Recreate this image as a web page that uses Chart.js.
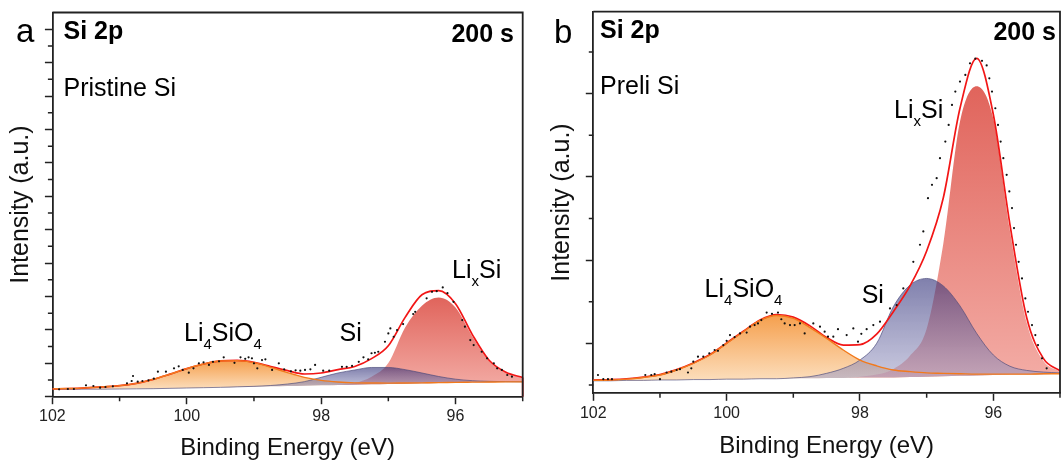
<!DOCTYPE html>
<html>
<head>
<meta charset="utf-8">
<script src="https://cdn.jsdelivr.net/npm/chart.js@4.4.1/dist/chart.umd.min.js"></script>
<style>
html, body { margin: 0; padding: 0; background: #fff; }
#wrap { position: relative; width: 1064px; height: 466px; }
.panel { position: absolute; top: 0; width: 532px; height: 466px; }
</style>
</head>
<body>
<div id="wrap">
  <div class="panel" style="left:0"><canvas id="chartA" width="532" height="466"></canvas></div>
  <div class="panel" style="left:532px"><canvas id="chartB" width="532" height="466"></canvas></div>
</div>
<script>
// binding energy grid (eV) used by the fitted curves of both panels
var energy = [102, 101.75, 101.5, 101.25, 101, 100.75, 100.5, 100.25, 100, 99.75, 99.5, 99.25, 99, 98.75,
  98.5, 98.25, 98, 97.75, 97.5, 97.25, 97, 96.75, 96.5, 96.25, 96, 95.75, 95.5, 95.25, 95];

var xMajor = [102, 100, 98, 96];
var xMinor = [101, 99, 97, 95];

// ---- panel a : Pristine Si ----
var baselineA = [0.44, 0.44, 0.45, 0.45, 0.46, 0.47, 0.48, 0.50, 0.52, 0.54, 0.56, 0.58, 0.60, 0.62, 0.64,
  0.66, 0.68, 0.70, 0.72, 0.74, 0.76, 0.78, 0.80, 0.82, 0.84, 0.86, 0.87, 0.88, 0.88];
var li4sio4A = [0.47, 0.49, 0.53, 0.59, 0.66, 0.80, 1.04, 1.35, 1.68, 1.96, 2.14, 2.16, 2.04, 1.76, 1.44,
  1.16, 0.98, 0.88, 0.83, 0.82, 0.81, 0.82, 0.83, 0.84, 0.86, 0.87, 0.88, 0.89, 0.89];
var siA = [0.44, 0.44, 0.45, 0.45, 0.46, 0.47, 0.48, 0.50, 0.52, 0.54, 0.56, 0.59, 0.62, 0.67, 0.76,
  0.90, 1.16, 1.42, 1.60, 1.75, 1.75, 1.62, 1.42, 1.21, 1.05, 0.96, 0.92, 0.90, 0.89];
var lixsiA = [0.44, 0.44, 0.45, 0.45, 0.46, 0.47, 0.48, 0.50, 0.52, 0.54, 0.56, 0.58, 0.60, 0.62, 0.64,
  0.66, 0.68, 0.72, 0.82, 1.19, 2.01, 4.15, 5.45, 5.94, 5.34, 3.61, 2.12, 1.43, 1.13];
var envelopeA = [0.47, 0.49, 0.53, 0.59, 0.66, 0.80, 1.04, 1.35, 1.68, 1.96, 2.14, 2.17, 2.06, 1.81, 1.56,
  1.36, 1.42, 1.62, 1.81, 2.28, 3.05, 4.75, 6.10, 6.35, 5.57, 3.72, 2.18, 1.46, 1.15];
var envelopeEndA = [[95, 1.15], [95, 0]];
var rawA = [[101.9, 0.44], [101.77, 0.46], [101.68, 0.46], [101.5, 0.68], [101.39, 0.64], [101.29, 0.54],
  [101.21, 0.58], [101.1, 0.62], [100.89, 0.8], [100.82, 0.94], [100.8, 1.24], [100.73, 0.9], [100.66, 0.94],
  [100.57, 0.98], [100.49, 1.08], [100.43, 1.5], [100.31, 1.5], [100.19, 1.7], [100.12, 1.82], [100.06, 1.6],
  [99.97, 1.44], [99.9, 1.7], [99.82, 2.0], [99.75, 2.06], [99.67, 1.9], [99.61, 2.09], [99.52, 2.12],
  [99.45, 2.36], [99.29, 2.03], [99.2, 2.36], [99.13, 2.27], [99.08, 2.36], [99.03, 2.3], [99.0, 2.0],
  [98.95, 1.7], [98.88, 2.19], [98.83, 2.24], [98.73, 1.6], [98.63, 2.0], [98.55, 1.64], [98.45, 1.52],
  [98.38, 1.58], [98.31, 1.56], [98.24, 1.6], [98.16, 1.64], [98.09, 1.9], [97.97, 1.56], [97.88, 1.56],
  [97.69, 1.79], [97.62, 1.79], [97.54, 1.84], [97.44, 2.09], [97.37, 2.36], [97.3, 2.24], [97.25, 2.6],
  [97.2, 2.63], [97.15, 2.69], [97.05, 3.29], [97.0, 3.79], [96.97, 4.09], [96.92, 3.59], [96.87, 3.99],
  [96.78, 4.35], [96.63, 4.95], [96.6, 5.08], [96.43, 5.89], [96.35, 6.28], [96.28, 6.32], [96.19, 6.54],
  [96.12, 6.2], [96.03, 5.68], [95.9, 4.59], [95.86, 4.19], [95.78, 3.39], [95.73, 3.09], [95.61, 2.69],
  [95.53, 2.3], [95.43, 2.0], [95.38, 1.7], [95.31, 1.6], [95.23, 1.3], [95.16, 1.2]];
var yMajorA = [0, 2, 4, 6, 8, 10, 12, 14, 16, 18, 20, 22];
var yMinorA = [1, 3, 5, 7, 9, 11, 13, 15, 17, 19, 21];

// ---- panel b : Preli Si ----
var baselineB = [0.10, 0.10, 0.11, 0.11, 0.12, 0.12, 0.13, 0.13, 0.14, 0.14, 0.15, 0.15, 0.16, 0.16, 0.17,
  0.17, 0.18, 0.18, 0.18, 0.19, 0.20, 0.21, 0.22, 0.23, 0.24, 0.25, 0.25, 0.26, 0.27];
var li4sio4B = [0.11, 0.12, 0.14, 0.18, 0.24, 0.36, 0.52, 0.72, 1.00, 1.28, 1.55, 1.67, 1.60, 1.38, 1.12,
  0.84, 0.60, 0.46, 0.36, 0.32, 0.29, 0.28, 0.27, 0.26, 0.26, 0.26, 0.26, 0.27, 0.27];
var siB = [0.10, 0.10, 0.11, 0.11, 0.12, 0.12, 0.13, 0.13, 0.14, 0.14, 0.15, 0.15, 0.17, 0.20, 0.28,
  0.40, 0.60, 1.00, 1.88, 2.40, 2.56, 2.38, 1.90, 1.24, 0.72, 0.45, 0.35, 0.31, 0.29];
var lixsiB = [0.10, 0.10, 0.11, 0.11, 0.12, 0.12, 0.13, 0.13, 0.14, 0.14, 0.15, 0.15, 0.16, 0.16, 0.17,
  0.17, 0.20, 0.25, 0.38, 0.70, 1.35, 3.40, 6.33, 7.18, 6.40, 3.70, 1.50, 0.58, 0.32];
var envelopeB = [0.12, 0.13, 0.15, 0.19, 0.25, 0.37, 0.53, 0.73, 1.01, 1.29, 1.56, 1.69, 1.63, 1.42, 1.14,
  0.96, 0.97, 1.22, 1.76, 2.38, 3.22, 4.50, 6.65, 7.85, 6.50, 3.85, 1.62, 0.64, 0.34];
var rawB = [[101.93, 0.24], [101.85, 0.14], [101.78, 0.14], [101.72, 0.14], [101.22, 0.24], [101.13, 0.24],
  [101.08, 0.26], [101.0, 0.14], [100.9, 0.3], [100.83, 0.32], [100.75, 0.36], [100.7, 0.38], [100.58, 0.3],
  [100.53, 0.4], [100.5, 0.56], [100.43, 0.68], [100.35, 0.68], [100.26, 0.76], [100.18, 0.84], [100.13, 0.82],
  [100.05, 0.96], [100.0, 1.06], [99.95, 1.2], [99.88, 1.15], [99.8, 1.24], [99.7, 1.26], [99.65, 1.4],
  [99.58, 1.44], [99.53, 1.48], [99.48, 1.56], [99.4, 1.74], [99.32, 1.71], [99.23, 1.74], [99.18, 1.58],
  [99.13, 1.48], [99.05, 1.44], [98.98, 1.44], [98.9, 1.48], [98.83, 1.24], [98.7, 1.48], [98.6, 1.4],
  [98.53, 1.28], [98.48, 1.16], [98.4, 1.16], [98.33, 1.34], [98.2, 1.2], [98.1, 1.36], [98.03, 1.04],
  [97.98, 1.23], [97.9, 1.34], [97.8, 1.44], [97.7, 1.52], [97.55, 1.84], [97.45, 1.92], [97.35, 2.32],
  [97.2, 2.96], [97.1, 3.37], [97.05, 3.69], [96.98, 4.49], [96.92, 4.81], [96.85, 4.97], [96.8, 5.45],
  [96.72, 5.85], [96.67, 6.25], [96.62, 6.73], [96.57, 7.05], [96.5, 7.29], [96.42, 7.45], [96.35, 7.73],
  [96.27, 7.84], [96.17, 7.79], [96.1, 7.68], [96.06, 7.37], [96.02, 7.05], [95.97, 6.65], [95.93, 6.25],
  [95.89, 5.85], [95.85, 5.45], [95.8, 5.05], [95.76, 4.65], [95.72, 4.25], [95.69, 3.77], [95.66, 3.37],
  [95.62, 2.96], [95.57, 2.56], [95.52, 2.08], [95.48, 1.76], [95.42, 1.44], [95.37, 1.2], [95.33, 0.96],
  [95.27, 0.64], [95.2, 0.4]];
var yMajorB = [1, 3, 5, 7];
var yMinorB = [0, 2, 4, 6, 8];

var FONT = '"Liberation Sans", Arial, Helvetica, sans-serif';
var AXIS = '#222';
Chart.defaults.font.family = FONT;
Chart.defaults.color = '#111';

function curve(values) {
  return values.map(function (v, i) { return {x: energy[i], y: v}; });
}
function pairs(list) {
  return list.map(function (p) { return {x: p[0], y: p[1]}; });
}

// vertical gradient running from the top of a peak down to its baseline
function peakFill(top, bottom, values, baseline) {
  return function (ctx) {
    var chart = ctx.chart;
    if (!chart.chartArea) return top;
    var ys = chart.scales.y;
    var g = chart.ctx.createLinearGradient(0, ys.getPixelForValue(Math.max.apply(null, values)),
      0, ys.getPixelForValue(Math.min.apply(null, baseline)));
    g.addColorStop(0, top);
    g.addColorStop(1, bottom);
    return g;
  };
}

function drawRich(ctx, parts, x, y, size, weight, align) {
  var subSize = 15;
  var w = 0;
  parts.forEach(function (p) {
    ctx.font = weight + ' ' + (p[1] ? subSize : size) + 'px ' + FONT;
    w += ctx.measureText(p[0]).width;
  });
  var cx = align === 'right' ? x - w : x;
  ctx.textAlign = 'left';
  ctx.textBaseline = 'alphabetic';
  ctx.fillStyle = '#000';
  parts.forEach(function (p) {
    ctx.font = weight + ' ' + (p[1] ? subSize : size) + 'px ' + FONT;
    ctx.fillText(p[0], cx, p[1] ? y + 8 : y);
    cx += ctx.measureText(p[0]).width;
  });
}

function decor(panel) {
  return {
    id: 'decor',
    afterDraw: function (chart) {
      var ctx = chart.ctx, a = chart.chartArea;
      var xs = chart.scales.x, ys = chart.scales.y;
      ctx.save();
      // frame: top and right edges
      ctx.strokeStyle = AXIS;
      ctx.lineWidth = 1.8;
      ctx.beginPath();
      ctx.moveTo(a.left, a.top);
      ctx.lineTo(a.right, a.top);
      ctx.lineTo(a.right, a.bottom);
      ctx.stroke();
      // minor ticks
      ctx.lineWidth = 1.5;
      ctx.beginPath();
      panel.yMinor.forEach(function (v) {
        var py = ys.getPixelForValue(v);
        ctx.moveTo(a.left - 4.5, py);
        ctx.lineTo(a.left, py);
      });
      xMinor.forEach(function (v) {
        var px = xs.getPixelForValue(v);
        ctx.moveTo(px, a.bottom);
        ctx.lineTo(px, a.bottom + 4.5);
      });
      ctx.stroke();
      panel.texts.forEach(function (t) {
        drawRich(ctx, t.parts, t.x, t.y, t.size || 25, t.weight || 'normal', t.align);
      });
      ctx.restore();
    }
  };
}

function buildPanel(id, panel) {
  var datasets = [
    {label: 'data', data: pairs(panel.raw), showLine: false, pointRadius: 1.1, pointBorderWidth: 0,
      pointBackgroundColor: '#111'},
    {label: 'Li4SiO4 edge', data: curve(panel.li4sio4), borderColor: '#f27a1c', borderWidth: 1.4,
      pointRadius: 0, fill: false, cubicInterpolationMode: 'monotone'},
    {label: 'envelope', data: curve(panel.envelope), borderColor: '#f21616', borderWidth: 1.7,
      pointRadius: 0, fill: false, cubicInterpolationMode: 'monotone'},
    {label: 'Si', data: curve(panel.si), borderColor: 'rgba(70,70,120,0.8)', borderWidth: 0.8,
      pointRadius: 0, fill: {target: 6}, cubicInterpolationMode: 'monotone',
      backgroundColor: peakFill('rgba(43,43,117,0.6)', 'rgba(160,160,200,0.55)', panel.si, panel.baseline)},
    {label: 'LixSi', data: curve(panel.lixsi), borderColor: 'rgba(0,0,0,0)', borderWidth: 0,
      pointRadius: 0, fill: {target: 6}, cubicInterpolationMode: 'monotone',
      backgroundColor: peakFill('rgba(219,73,63,0.85)', 'rgba(241,158,150,0.85)', panel.lixsi, panel.baseline)},
    {label: 'Li4SiO4', data: curve(panel.li4sio4), borderColor: 'rgba(0,0,0,0)', borderWidth: 0,
      pointRadius: 0, fill: {target: 6}, cubicInterpolationMode: 'monotone',
      backgroundColor: peakFill('rgba(243,136,34,0.8)', 'rgba(251,214,172,0.8)', panel.li4sio4, panel.baseline)},
    {label: 'baseline', data: curve(panel.baseline), borderColor: 'rgba(0,0,0,0)', borderWidth: 0,
      pointRadius: 0, fill: false, cubicInterpolationMode: 'monotone'}
  ];
  if (panel.envelopeEnd) {
    datasets.push({label: 'envelope end', data: pairs(panel.envelopeEnd), borderColor: '#f21616',
      borderWidth: 1.7, pointRadius: 0, fill: false, clip: 3});
  }
  return new Chart(document.getElementById(id), {
    type: 'line',
    data: {datasets: datasets},
    options: {
      responsive: false,
      animation: false,
      devicePixelRatio: 1,
      layout: {padding: panel.pad},
      plugins: {legend: {display: false}, tooltip: {enabled: false}},
      scales: {
        x: {
          type: 'linear', reverse: true, min: 95, max: 102,
          afterBuildTicks: function (s) { s.ticks = xMajor.map(function (v) { return {value: v}; }); },
          afterFit: function (s) { s.height = panel.xHeight; },
          ticks: {font: {size: 16}, color: '#222', padding: 3, maxRotation: 0, autoSkip: false},
          grid: {drawOnChartArea: false, drawTicks: true, tickLength: 7.5, tickColor: AXIS, tickWidth: 1.5},
          border: {display: true, color: AXIS, width: 1.8},
          title: {display: true, text: 'Binding Energy (eV)', font: {size: 24}, color: '#111',
            padding: {top: 0, bottom: panel.xTitlePad}}
        },
        y: {
          min: panel.yMin, max: panel.yMax,
          afterBuildTicks: function (s) { s.ticks = panel.yMajor.map(function (v) { return {value: v}; }); },
          afterFit: function (s) { s.width = panel.yWidth; },
          ticks: {display: false},
          grid: {drawOnChartArea: false, drawTicks: true, tickLength: 7.5, tickColor: AXIS, tickWidth: 1.5},
          border: {display: true, color: AXIS, width: 1.8},
          title: {display: true, text: 'Intensity (a.u.)', font: {size: 25}, color: '#111',
            padding: {top: panel.yTitlePad, bottom: 0}}
        }
      }
    },
    plugins: [decor(panel)]
  });
}

buildPanel('chartA', {
  raw: rawA, li4sio4: li4sio4A, si: siA, lixsi: lixsiA, envelope: envelopeA, baseline: baselineA,
  envelopeEnd: envelopeEndA, yMin: 0, yMax: 23, yMajor: yMajorA, yMinor: yMinorA,
  pad: {left: 0, right: 9.3, top: 12.5, bottom: 0}, yWidth: 52.4, xHeight: 69.3,
  xTitlePad: 3, yTitlePad: 6,
  texts: [
    {parts: [['a']], x: 16, y: 41.7, size: 33},
    {parts: [['Si 2p']], x: 63.5, y: 38.5, weight: 'bold'},
    {parts: [['200 s']], x: 514, y: 41.5, weight: 'bold', align: 'right'},
    {parts: [['Pristine Si']], x: 63.5, y: 96},
    {parts: [['Li'], ['4', 1], ['SiO'], ['4', 1]], x: 184, y: 340.7},
    {parts: [['Si']], x: 339.5, y: 340.7},
    {parts: [['Li'], ['x', 1], ['Si']], x: 452, y: 278.3}
  ]
});

buildPanel('chartB', {
  raw: rawB, li4sio4: li4sio4B, si: siB, lixsi: lixsiB, envelope: envelopeB, baseline: baselineB,
  yMin: -0.2, yMax: 8.97, yMajor: yMajorB, yMinor: yMinorB,
  pad: {left: 0, right: 3.7, top: 11.7, bottom: 0}, yWidth: 61.3, xHeight: 72.7,
  xTitlePad: 5, yTitlePad: 15.5,
  texts: [
    {parts: [['b']], x: 22, y: 43.3, size: 33},
    {parts: [['Si 2p']], x: 68, y: 37.5, weight: 'bold'},
    {parts: [['200 s']], x: 524, y: 40, weight: 'bold', align: 'right'},
    {parts: [['Preli Si']], x: 68, y: 93.5},
    {parts: [['Li'], ['4', 1], ['SiO'], ['4', 1]], x: 172.6, y: 296.7},
    {parts: [['Si']], x: 329.7, y: 303.3},
    {parts: [['Li'], ['x', 1], ['Si']], x: 362, y: 118.3}
  ]
});
</script>
</body>
</html>
